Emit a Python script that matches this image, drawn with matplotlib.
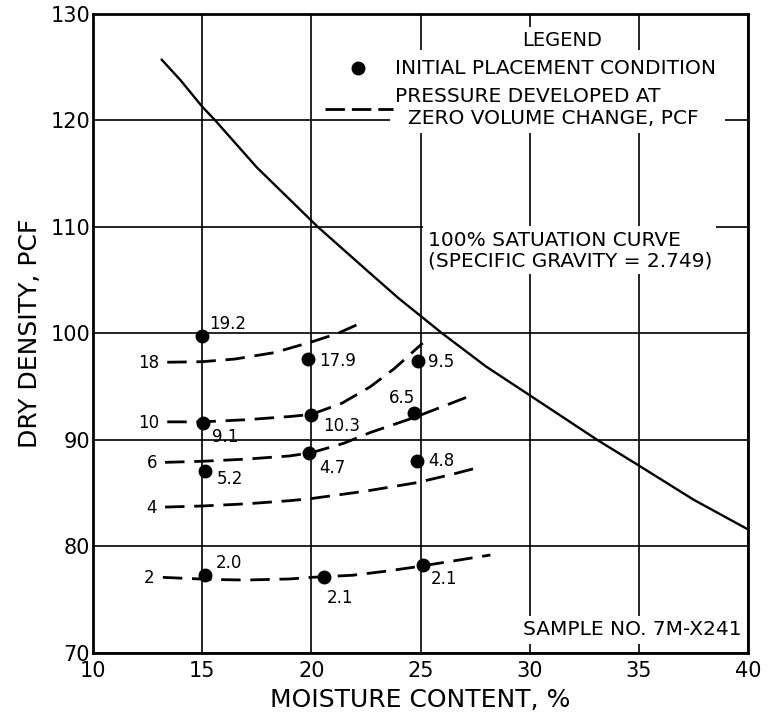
import matplotlib.pyplot as plt
from matplotlib.patches import Rectangle

# --- DATA ---
# 100% saturation curve
sat_w = [13.15, 14.0, 15.0, 15.6, 17.5, 20.3, 22.5, 24.0, 26.0, 28.0, 30.0, 33.1, 35.0, 37.5, 40.0]
sat_d = [125.7, 123.8, 121.3, 120.0, 115.6, 110.0, 106.0, 103.3, 100.0, 96.9, 94.2, 90.0, 87.6, 84.4, 81.6]

# initial placement condition points
pt_w = [15.0, 19.85, 24.9, 24.7, 20.0, 15.05, 15.15, 19.9, 24.85, 15.15, 20.6, 25.1]
pt_d = [99.8, 97.6, 97.4, 92.5, 92.3, 91.6, 87.1, 88.8, 88.0, 77.3, 77.1, 78.3]
pt_lbl = ["19.2", "17.9", "9.5", "6.5", "10.3", "9.1", "5.2", "4.7", "4.8", "2.0", "2.1", "2.1"]

# pressure contours (pcf)
curve_lbl = ["18", "10", "6", "4", "2"]
c18_w = [13.4, 15.0, 16.5, 18.3, 20.0, 21.2, 22.4]
c18_d = [97.3, 97.35, 97.6, 98.2, 99.2, 100.0, 101.1]
c10_w = [13.4, 15.0, 17.0, 19.0, 20.0, 21.4, 22.7, 23.8, 25.1]
c10_d = [91.7, 91.7, 91.9, 92.2, 92.4, 93.45, 95.0, 96.7, 99.1]
c6_w = [13.3, 15.0, 17.0, 19.0, 20.0, 21.5, 22.7, 24.7, 27.1]
c6_d = [87.9, 88.0, 88.2, 88.5, 88.8, 89.7, 90.7, 92.1, 94.0]
c4_w = [13.3, 15.0, 17.0, 19.0, 20.0, 22.5, 24.85, 26.5, 27.8]
c4_d = [83.7, 83.8, 84.0, 84.3, 84.5, 85.2, 86.0, 86.8, 87.5]
c2_w = [13.2, 14.3, 15.5, 17.0, 19.0, 20.0, 21.9, 23.5, 24.85, 28.2]
c2_d = [77.1, 77.0, 76.9, 76.85, 76.95, 77.1, 77.3, 77.7, 78.1, 79.2]

# label offsets in pixels (dx, dy, ha)
lbl_off = [(7, 12, "left"), (11, -2, "left"), (10, -1, "left"), (1, 15, "right"),
           (12, -11, "left"), (9, -14, "left"), (11, -8, "left"), (10, -15, "left"),
           (11, 0, "left"), (10, 12, "left"), (2, -21, "left"), (8, -14, "left")]

plt.rcParams["font.family"] = ["DejaVu Sans"]

fig = plt.figure(figsize=(7.68, 7.24), dpi=100)
ax = fig.add_axes([0.1211, 0.0981, 0.8529, 0.8826])

ax.set_xlim(10, 40)
ax.set_ylim(70, 130)
ax.set_xticks(range(10, 41, 5))
ax.set_yticks(range(70, 131, 10))
ax.tick_params(length=0, labelsize=15)
ax.tick_params(axis="x", pad=6)
ax.tick_params(axis="y", pad=2)
for s in ax.spines.values():
    s.set_linewidth(2)
ax.grid(True, color="black", linewidth=1.2)
ax.set_axisbelow(True)

# saturation curve
ax.plot(sat_w, sat_d, color="black", linewidth=1.7, zorder=3)

# pressure contours
curves = [(c18_w, c18_d), (c10_w, c10_d), (c6_w, c6_d), (c4_w, c4_d), (c2_w, c2_d)]
for (cw, cd), lab in zip(curves, curve_lbl):
    ax.plot(cw, cd, color="black", linewidth=2, dashes=(7, 3.5), zorder=3)
    ax.annotate(lab, (cw[0], cd[0]), xytext=(-8, -1), textcoords="offset pixels",
                ha="right", va="center", fontsize=12)

# points
ax.plot(pt_w, pt_d, "o", color="black", markersize=9, zorder=4)
for w, d, t, (dx, dy, ha) in zip(pt_w, pt_d, pt_lbl, lbl_off):
    ax.annotate(t, (w, d), xytext=(dx, dy), textcoords="offset pixels",
                ha=ha, va="center", fontsize=12)

# legend block (white patch hides the grid behind it)
ax.add_patch(Rectangle((0.453, 0.814), 0.512, 0.130, transform=ax.transAxes,
                       fc="white", ec="none", zorder=2))
ax.text(0.716, 0.959, "LEGEND", transform=ax.transAxes, ha="center", va="center",
        fontsize=14, bbox=dict(fc="white", ec="none", pad=3), zorder=5)
ax.plot([0.405], [0.915], "o", color="black", markersize=9, transform=ax.transAxes, zorder=6)
ax.text(0.461, 0.915, "INITIAL PLACEMENT CONDITION", transform=ax.transAxes,
        ha="left", va="center", fontsize=14.5, zorder=5)
ax.text(0.461, 0.871, "PRESSURE DEVELOPED AT", transform=ax.transAxes,
        ha="left", va="center", fontsize=14.5, zorder=5)
ax.text(0.481, 0.836, "ZERO VOLUME CHANGE, PCF", transform=ax.transAxes,
        ha="left", va="center", fontsize=14.5, zorder=5)
ax.plot([0.354, 0.458], [0.852, 0.852], color="black", linewidth=2, dashes=(7, 2.5),
        transform=ax.transAxes, zorder=6)

ax.text(0.511, 0.630, "100% SATUATION CURVE\n(SPECIFIC GRAVITY = 2.749)",
        transform=ax.transAxes, ha="left", va="center", fontsize=14.5, linespacing=1.1,
        bbox=dict(fc="white", ec="none", pad=3), zorder=5)

ax.text(0.99, 0.036, "SAMPLE NO. 7M-X241", transform=ax.transAxes, ha="right",
        va="center", fontsize=14.5, bbox=dict(fc="white", ec="none", pad=3), zorder=5)

fig.text(30 / 768, 1 - 333 / 724, "DRY DENSITY, PCF", rotation=90, ha="center",
         va="center", fontsize=18)
fig.text(420 / 768, 1 - 700 / 724, "MOISTURE CONTENT, %", ha="center", va="center",
         fontsize=18)

fig.savefig("out.png", dpi=100)
